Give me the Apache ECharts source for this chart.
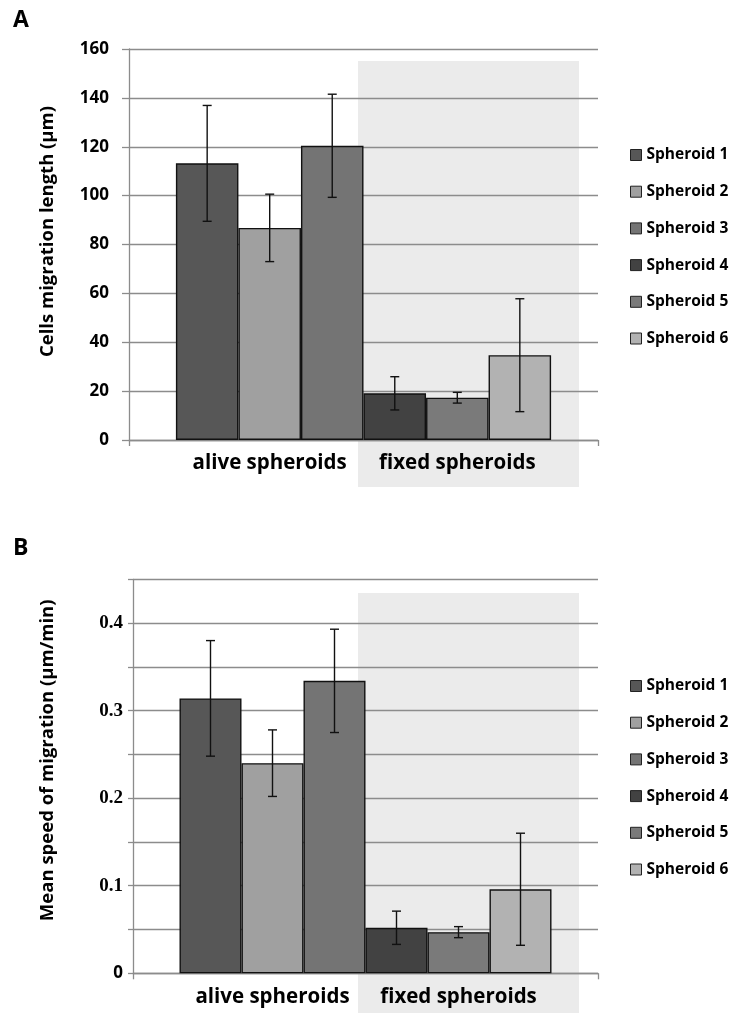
<!DOCTYPE html>
<html><head><meta charset="utf-8">
<script src="https://cdn.jsdelivr.net/npm/echarts@6/dist/echarts.min.js"></script>
<style>html,body{margin:0;padding:0;background:#fff}#c{width:741px;height:1013px}</style>
</head><body><div id="c"></div>
<script>
// ---------- data ----------
const seriesNames = ['Spheroid 1', 'Spheroid 2', 'Spheroid 3', 'Spheroid 4', 'Spheroid 5', 'Spheroid 6'];
const groupLabels = ['alive spheroids', 'fixed spheroids'];
const panelLetters = ['A', 'B'];
const yAxisTitles = ['Cells migration length (µm)', 'Mean speed of migration (µm/min)'];
const lengthMeans = [113.2, 86.8, 120.4, 19.1, 17.3, 34.7];
const lengthErrors = [23.7, 13.8, 21.1, 6.8, 2.2, 23.1];
const speedMeans = [0.314, 0.240, 0.334, 0.052, 0.047, 0.096];
const speedErrors = [0.066, 0.038, 0.059, 0.019, 0.0063, 0.064];
const lengthAxis = { min: 0, max: 160, interval: 20 };
const speedAxis = { min: 0, max: 0.45, interval: 0.05 };

// ---------- style ----------
const barColors = ['#575757', '#a0a0a0', '#747474', '#424242', '#7a7a7a', '#b2b2b2'];
const FONT = '"Open Sans"';
const TXT = '#000';
const gridColor = '#8c8c8c';
const BAR_FRACTION = 0.8; // 1 - barCategoryGap

const chart = echarts.init(document.getElementById('c'), null, { renderer: 'canvas' });

function errRender(params, api) {
  const idx = api.value(3);
  const mean = api.value(1), err = api.value(2);
  const c = api.coord([0, mean]);
  const band = api.size([1, 0])[0];
  const bw = band * BAR_FRACTION / seriesNames.length;
  const x = c[0] - band * BAR_FRACTION / 2 + bw * (idx + 0.5);
  const hi = api.coord([0, mean + err])[1];
  const lo = api.coord([0, mean - err])[1];
  const cap = 4.5;
  const st = { stroke: '#111', lineWidth: 1.4 };
  return {
    type: 'group', children: [
      { type: 'line', shape: { x1: x, y1: hi, x2: x, y2: lo }, style: st },
      { type: 'line', shape: { x1: x - cap, y1: hi, x2: x + cap, y2: hi }, style: st },
      { type: 'line', shape: { x1: x - cap, y1: lo, x2: x + cap, y2: lo }, style: st }
    ]
  };
}

const panels = [
  { means: lengthMeans, errors: lengthErrors, axis: lengthAxis,
    grid: { left: 129, right: 143, top: 49, height: 391 },
    legendTop: 146.5, letterTop: 9, labelY: 463, shade: { y: 61, h: 426 },
    nameGap: 72, namePad: 26, labelMargin: 20, tickLen: 7 },
  { means: speedMeans, errors: speedErrors, axis: speedAxis,
    grid: { left: 133, right: 143, top: 579.3, height: 394 },
    legendTop: 677.5, letterTop: 537, labelY: 997, shade: { y: 593, h: 420 },
    nameGap: 76, namePad: 32, labelMargin: 10, tickLen: 5 }
];

const grids = [], xAxes = [], yAxes = [], series = [], legends = [], titles = [], graphics = [];

panels.forEach((p, pi) => {
  grids.push(Object.assign({ containLabel: false }, p.grid));
  xAxes.push({
    type: 'category', gridIndex: pi, data: [''],
    axisLine: { lineStyle: { color: gridColor, width: 1.3 } },
    axisTick: { show: true, length: 6, lineStyle: { color: gridColor, width: 1.3 } },
    axisLabel: { show: false }
  });
  yAxes.push({
    type: 'value', gridIndex: pi, min: p.axis.min, max: p.axis.max, interval: p.axis.interval,
    name: yAxisTitles[pi], nameLocation: 'middle', nameGap: p.nameGap, nameRotate: 90,
    nameTextStyle: { fontFamily: FONT, fontWeight: 'bold', fontSize: 18.5, color: TXT,
      padding: [0, 0, 0, p.namePad] },
    axisLine: { show: true, lineStyle: { color: gridColor, width: 1.3 } },
    axisTick: { show: true, length: p.tickLen, lineStyle: { color: gridColor, width: 1.3 } },
    splitLine: { show: true, lineStyle: { color: gridColor, width: 1.3 } },
    axisLabel: pi === 0 ? {
      margin: p.labelMargin, fontFamily: FONT, fontWeight: 'bold', fontSize: 17, color: TXT
    } : {
      margin: p.labelMargin,
      formatter: v => {
        const k = Math.round(v * 100);
        if (k % 10 !== 0) return '';
        if (k === 0) return '{s|0}';
        return '{r|' + (k / 100).toFixed(1) + '}';
      },
      rich: {
        s: { fontFamily: FONT, fontWeight: 'bold', fontSize: 17, color: TXT },
        r: { fontFamily: 'Liberation Serif', fontWeight: 'bold', fontSize: 19, color: TXT }
      }
    }
  });
  seriesNames.forEach((nm, i) => {
    series.push({
      type: 'bar', name: nm, xAxisIndex: pi, yAxisIndex: pi,
      data: [p.means[i]], barGap: '0%', barCategoryGap: '20%',
      itemStyle: { color: barColors[i], borderColor: '#111', borderWidth: 1.4 },
      emphasis: { disabled: true }, z: 3
    });
  });
  series.push({
    type: 'custom', name: 'err' + pi, xAxisIndex: pi, yAxisIndex: pi,
    renderItem: errRender, encode: { x: 0, y: 1 }, z: 5,
    data: p.means.map((m, i) => [0, m, p.errors[i], i])
  });
  legends.push({
    data: seriesNames, orient: 'vertical', left: 630, top: p.legendTop, padding: 0,
    itemWidth: 11, itemHeight: 11, itemGap: 19.7, icon: 'rect',
    itemStyle: { borderColor: '#222', borderWidth: 1 },
    textStyle: { fontFamily: FONT, fontWeight: 'bold', fontSize: 15.5, lineHeight: 17, color: TXT },
    selectedMode: false
  });
  titles.push({
    text: panelLetters[pi], left: 13, top: p.letterTop, padding: 0,
    textStyle: { fontFamily: FONT, fontWeight: 'bold', fontSize: 23, color: TXT }
  });
  graphics.push({
    type: 'rect', z: -100, silent: true,
    shape: { x: 358, y: p.shade.y, width: 221, height: p.shade.h },
    style: { fill: '#ebebeb' }
  });
  const gl = p.grid.left, gw = 741 - p.grid.right - p.grid.left;
  groupLabels.forEach((t, gi) => {
    // centre of each group of three bars within the single category band
    const cx = gl + gw * ((1 - BAR_FRACTION) / 2 + BAR_FRACTION * (gi * 3 + 1.5) / 6);
    graphics.push({
      type: 'text', z: 10, silent: true, x: cx, y: p.labelY,
      style: { text: t, textAlign: 'center', textVerticalAlign: 'middle',
        font: 'bold 20.5px "Open Sans"', fill: TXT }
    });
  });
});

chart.setOption({
  animation: false,
  backgroundColor: '#fff',
  title: titles, grid: grids, xAxis: xAxes, yAxis: yAxes,
  legend: legends, series: series, graphic: graphics
});
</script></body></html>
